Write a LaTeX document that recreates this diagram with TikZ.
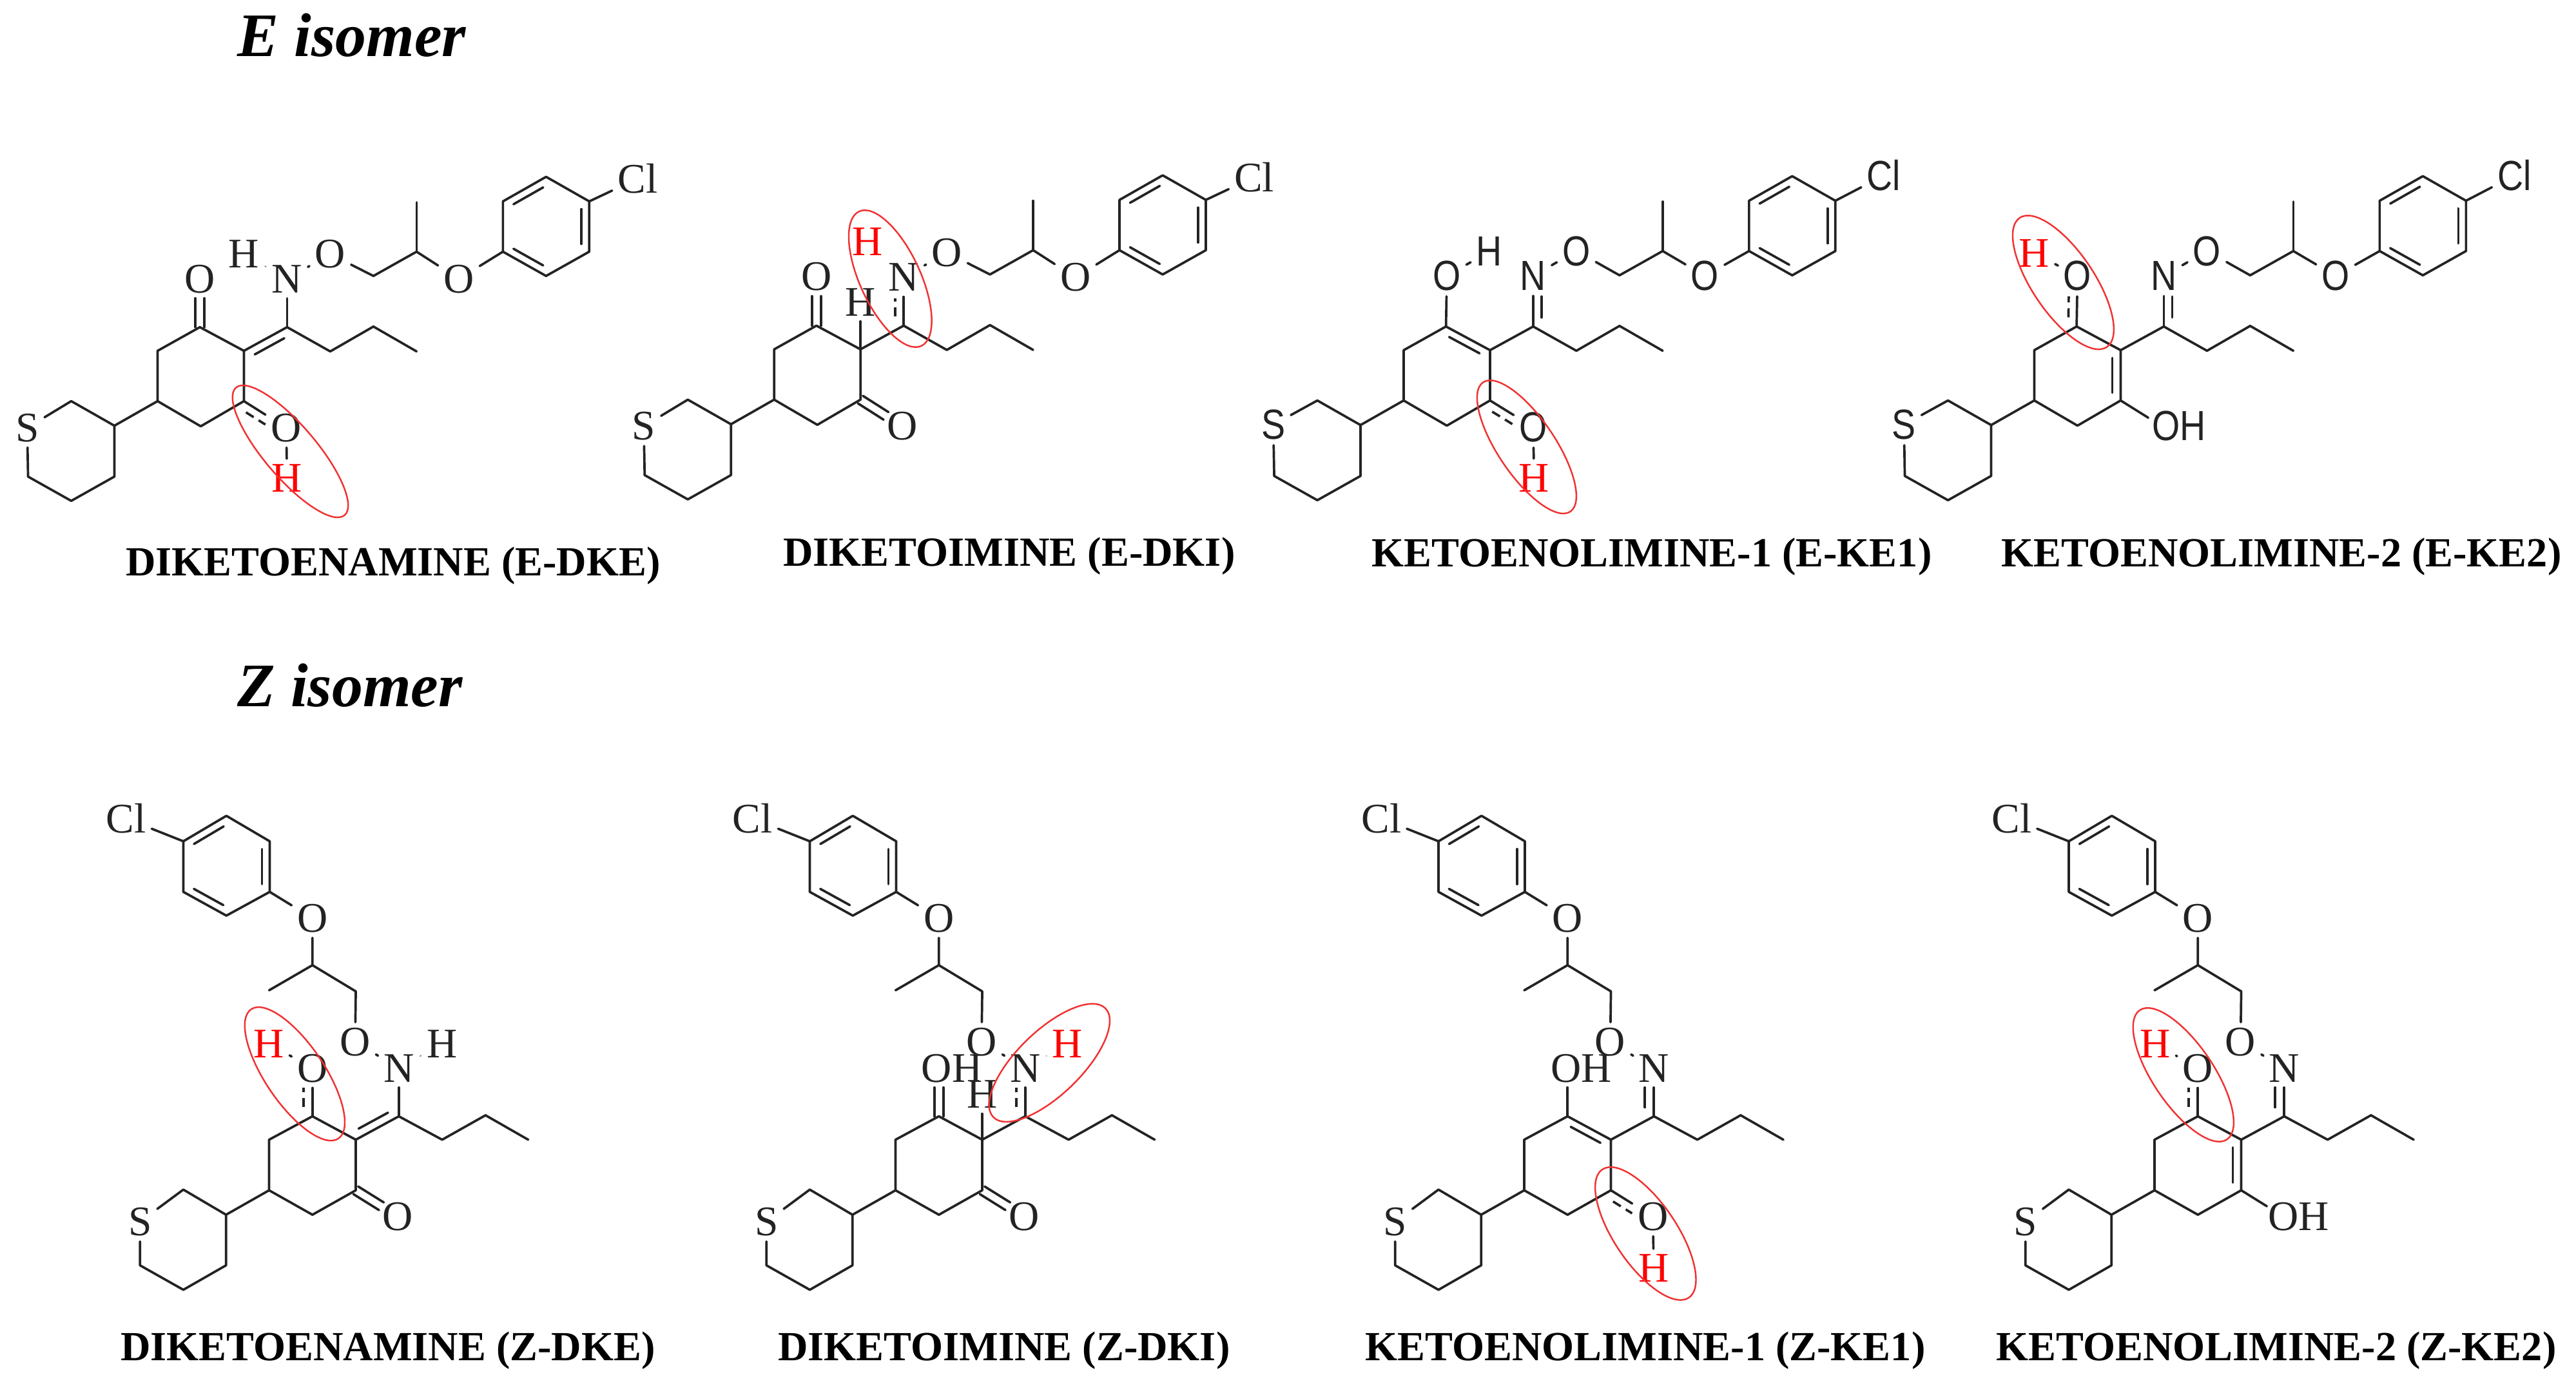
\documentclass[tikz,border=0pt]{standalone}
\usepackage{fontspec}
\usetikzlibrary{calc}
\setmainfont{Liberation Serif}
\newfontfamily\sansat[FakeStretch=0.85]{Liberation Sans}
\definecolor{ink}{RGB}{35,35,35}
\definecolor{hlred}{RGB}{240,50,50}
\def\serifatom{\rmfamily\fontsize{18.6pt}{20pt}\selectfont}
\def\sansatom{\sansat\fontsize{18.6pt}{20pt}\selectfont}
\let\atomf\serifatom
\def\atomdy{0cm}
\tikzset{
  bond/.style={line width=1.05pt,draw=ink,line cap=round,line join=round},
  faint/.style={line width=0.5pt,draw=black!45},
  dashbond/.style={line width=1.05pt,draw=ink,dash pattern=on 4pt off 2.6pt},
  atom/.style={inner sep=0.08cm,text=ink,font=\atomf,yshift=\atomdy},
  redh/.style={inner sep=0.08cm,text=red,font=\serifatom},
  hl/.style={draw=hlred,line width=0.7pt},
  lab/.style={inner sep=0pt,text=black,font=\rmfamily\bfseries\fontsize{18.3pt}{20pt}\selectfont},
  ttl/.style={inner sep=0pt,anchor=base west,text=black,font=\rmfamily\bfseries\itshape\fontsize{27.3pt}{30pt}\selectfont},
  egrid/.style={x=0.0067cm,y=-0.00459cm},
  zgrid/.style={x=0.0051cm,y=-0.00542cm},
}
% parallel line: a,b,offset,start trim,end trim
\newcommand\dbb[5]{\draw[bond] ($(#1)!#4!(#2)!#3!90:(#2)$) -- ($(#2)!#5!(#1)!#3!-90:(#1)$);}
\newcommand\dsh[5]{\draw[dashbond] ($(#1)!#4!(#2)!#3!90:(#2)$) -- ($(#2)!#5!(#1)!#3!-90:(#1)$);}
\newcommand\symd[3]{%
  \draw[bond] ($(#1)!0.07cm!90:(#2)$) -- ($(#2)!#3!(#1)!0.07cm!-90:(#1)$);
  \draw[bond] ($(#1)!-0.07cm!90:(#2)$) -- ($(#2)!#3!(#1)!-0.07cm!-90:(#1)$);}
\newcommand\Eskel{%
  \foreach \n/\p in {t1/{165,920},t2/{265,1003},t3/{265,1175},t4/{165,1257},t5/{65,1175},
    r1/{365,920},r2/{365,750},r3/{463,670},r4/{565,750},r5/{565,920},r6/{465,1005},
    e1/{665,670},e2/{765,752},e3/{865,668},e4/{965,752},
    c1/{865,497},c2/{965,415},me/{965,248},
    b1/{1165,415},b2/{1165,245},b3/{1265,162},b4/{1365,245},b5/{1365,415},b6/{1265,497}}
    {\coordinate (\n) at (\p);}
  \node[atom] (S) at (63,1010) {S};
  \node[atom] (Cl) at (1477,168) {Cl};
  \node[atom] (O1) at (765,423) {O};
  \node[atom] (O2) at (1063,507) {O};
  \node[atom] (N) at (665,507) {N};
  \draw[bond] (S)--(t1)--(t2)--(t3)--(t4)--(t5)--(S);
  \draw[bond] (t2)--(r1)--(r2)--(r3)--(r4)--(r5)--(r6)--(r1);
  \draw[bond] (e1)--(e2)--(e3)--(e4);
  \draw[bond] (r4)--(e1);
  \draw[bond] (e1)--(N);
  \draw[bond] (N)--(O1);
  \draw[bond] (O1)--(c1)--(c2)--(O2);
  \draw[bond] (c2)--(me);
  \draw[bond] (O2)--(b1)--(b2)--(b3)--(b4)--(b5)--(b6)--(b1);
  \draw[bond] (b4)--(Cl);
  \dbb{b2}{b3}{-0.12cm}{0.12cm}{0.12cm}
  \dbb{b4}{b5}{-0.12cm}{0.12cm}{0.12cm}
  \dbb{b6}{b1}{-0.12cm}{0.12cm}{0.12cm}}
\newcommand\Zskel{%
  \foreach \n/\p in {t1/{362,1193},t2/{492,1265},t3/{492,1410},t4/{362,1480},t5/{230,1410},
    r1/{623,1195},r2/{623,1050},r3/{755,983},r4/{887,1050},r5/{887,1195},r6/{755,1265},
    e1/{1018,983},e2/{1150,1050},e3/{1282,980},e4/{1412,1050},
    c1/{887,625},c2/{755,550},me/{623,622},
    b1/{625,340},b2/{625,195},b3/{493,122},b4/{362,195},b5/{362,340},b6/{493,408}}
    {\coordinate (\n) at (\p);}
  \node[atom] (S) at (230,1285) {S};
  \node[atom] (Cl) at (188,130) {Cl};
  \node[atom] (O1) at (885,770) {O};
  \node[atom] (O2) at (755,415) {O};
  \node[atom] (N) at (1018,845) {N};
  \draw[bond] (S)--(t1)--(t2)--(t3)--(t4)--(t5)--(S);
  \draw[bond] (t2)--(r1)--(r2)--(r3)--(r4)--(r5)--(r6)--(r1);
  \draw[bond] (e1)--(e2)--(e3)--(e4);
  \draw[bond] (r4)--(e1);
  \draw[bond] (e1)--(N);
  \draw[bond] (N)--(O1);
  \draw[bond] (O1)--(c1)--(c2)--(O2);
  \draw[bond] (c2)--(me);
  \draw[bond] (O2)--(b1)--(b2)--(b3)--(b4)--(b5)--(b6)--(b1);
  \draw[bond] (b4)--(Cl);
  \dbb{b4}{b3}{-0.12cm}{0.12cm}{0.12cm}
  \dbb{b2}{b1}{-0.12cm}{0.12cm}{0.12cm}
  \dbb{b6}{b5}{-0.12cm}{0.12cm}{0.12cm}}
\begin{document}
\begin{tikzpicture}
\useasboundingbox (0,0) rectangle (39.97,-21.5);
% titles
\node[ttl] (tE) at (3.68,-0.87) {E isomer};
\node[ttl] (tZ) at (3.68,-10.96) {Z isomer};
% ---------- E-DKE
\begin{scope}[egrid,name prefix=edke-,shift={(0cm,-2cm)}]
  \Eskel
  \node[atom] (O3) at (463,507) {O};
  \node[atom] (O4) at (663,1010) {O};
  \node[atom] (Hb) at (565,423) {H};
  \node[redh] (Hr) at (665,1180) {H};
  \draw[faint] (Hb)--(N);
  \symd{r3}{O3}{0.30cm}
  \dbb{r4}{e1}{-0.13cm}{0.12cm}{0.12cm}
  \draw[bond] (r5)--(O4);
  \dsh{r5}{O4}{-0.13cm}{0.12cm}{0.30cm}
  \draw[bond] (O4)--(Hr);
\end{scope}
% ---------- E-DKI
\begin{scope}[egrid,name prefix=edki-,shift={(9.567cm,-1.977cm)}]
  \Eskel
  \node[atom] (O3) at (463,505) {O};
  \node[atom] (O4) at (662,1010) {O};
  \node[atom] (Hb) at (565,590) {H};
  \node[redh] (Hr) at (582,387) {H};
  \draw[bond] (r4)--(Hb);
  \symd{r3}{O3}{0.30cm}
  \symd{r5}{O4}{0.30cm}
  \dsh{e1}{N}{0.13cm}{0.14cm}{0.32cm}
\end{scope}
% ---------- E-KE1
\let\atomf\sansatom \def\atomdy{0.037cm}
\begin{scope}[egrid,name prefix=eke1-,shift={(19.335cm,-1.99cm)}]
  \Eskel
  \node[atom] (O3) at (465,507) {O};
  \node[atom] (Hb) at (563,425) {H};
  \node[atom] (O4) at (665,1018) {O};
  \node[redh] (Hr) at (667,1182) {H};
  \draw[bond] (r3)--(O3);
  \draw[bond] (O3)--(Hb);
  \dbb{r3}{r4}{-0.12cm}{0.12cm}{0.12cm}
  \dbb{e1}{N}{-0.13cm}{0.14cm}{0.32cm}
  \draw[bond] (r5)--(O4);
  \dsh{r5}{O4}{-0.13cm}{0.12cm}{0.30cm}
  \draw[bond] (O4)--(Hr);
\end{scope}
% ---------- E-KE2
\begin{scope}[egrid,name prefix=eke2-,shift={(29.12cm,-1.99cm)}]
  \Eskel
  \node[atom] (O3) at (465,507) {O};
  \node[redh] (Hr) at (365,422) {H};
  \coordinate (oc) at (667,1013);
  \node[atom] (OH) at (700,1013) {OH};
  \draw[bond] (r3)--(O3);
  \dsh{r3}{O3}{0.13cm}{0.14cm}{0.32cm}
  \draw[bond] (O3)--(Hr);
  \dbb{e1}{N}{-0.13cm}{0.14cm}{0.32cm}
  \dbb{r4}{r5}{-0.13cm}{0.12cm}{0.12cm}
  \draw[bond,shorten >=0.30cm] (r5)--(oc);
\end{scope}
\let\atomf\serifatom \def\atomdy{0cm}
% ---------- Z-DKE
\begin{scope}[zgrid,name prefix=zdke-,shift={(1cm,-12cm)}]
  \Zskel
  \node[atom] (O3) at (755,845) {O};
  \node[atom] (O4) at (1015,1270) {O};
  \node[atom] (Hb) at (1150,775) {H};
  \node[redh] (Hr) at (622,775) {H};
  \draw[faint] (N)--(Hb);
  \draw[bond] (r3)--(O3);
  \dsh{r3}{O3}{0.14cm}{0.14cm}{0.30cm}
  \draw[bond] (O3)--(Hr);
  \dbb{r4}{e1}{0.13cm}{0.12cm}{0.12cm}
  \symd{r5}{O4}{0.30cm}
\end{scope}
% ---------- Z-DKI
\begin{scope}[zgrid,name prefix=zdki-,shift={(10.72cm,-12cm)}]
  \Zskel
  \coordinate (oc) at (755,845);
  \node[atom] (OH) at (795,845) {OH};
  \node[atom] (O4) at (1015,1270) {O};
  \node[atom] (Hb) at (887,920) {H};
  \node[redh] (Hr) at (1147,775) {H};
  \symd{r3}{oc}{0.30cm}
  \draw[bond] (r4)--(Hb);
  \symd{r5}{O4}{0.30cm}
  \dsh{e1}{N}{0.14cm}{0.14cm}{0.30cm}
  \draw[faint] (N)--(Hr);
\end{scope}
% ---------- Z-KE1
\begin{scope}[zgrid,name prefix=zke1-,shift={(20.475cm,-12cm)}]
  \Zskel
  \coordinate (oc) at (755,845);
  \node[atom] (OH) at (797,845) {OH};
  \node[atom] (O4) at (1015,1270) {O};
  \node[redh] (Hr) at (1017,1418) {H};
  \draw[bond,shorten >=0.30cm] (r3)--(oc);
  \dbb{r3}{r4}{-0.12cm}{0.12cm}{0.12cm}
  \dbb{e1}{N}{0.14cm}{0.14cm}{0.30cm}
  \draw[bond] (r5)--(O4);
  \dsh{r5}{O4}{-0.13cm}{0.12cm}{0.30cm}
  \draw[bond] (O4)--(Hr);
\end{scope}
% ---------- Z-KE2
\begin{scope}[zgrid,name prefix=zke2-,shift={(30.255cm,-12cm)}]
  \Zskel
  \node[atom] (O3) at (755,845) {O};
  \node[redh] (Hr) at (625,775) {H};
  \coordinate (oc) at (1015,1270);
  \node[atom] (OH) at (1062,1270) {OH};
  \draw[bond] (r3)--(O3);
  \dsh{r3}{O3}{0.14cm}{0.14cm}{0.30cm}
  \draw[bond] (O3)--(Hr);
  \dbb{r4}{r5}{-0.13cm}{0.12cm}{0.12cm}
  \dbb{e1}{N}{0.14cm}{0.14cm}{0.30cm}
  \draw[bond,shorten >=0.30cm] (r5)--(oc);
\end{scope}
% highlight ellipses
\draw[hl] (4.505,-7.005) circle[x radius=1.30,y radius=0.405,rotate=130.4];
\draw[hl] (13.813,-4.325) circle[x radius=1.15,y radius=0.469,rotate=114.8];
\draw[hl] (23.689,-6.936) circle[x radius=1.21,y radius=0.443,rotate=124];
\draw[hl] (32.014,-4.383) circle[x radius=1.209,y radius=0.48,rotate=124];
\draw[hl] (4.574,-16.666) circle[x radius=1.21,y radius=0.458,rotate=124];
\draw[hl] (16.283,-16.494) circle[x radius=1.212,y radius=0.496,rotate=44.1];
\draw[hl] (25.533,-19.144) circle[x radius=1.20,y radius=0.484,rotate=124];
\draw[hl] (33.878,-16.68) circle[x radius=1.21,y radius=0.47,rotate=124];
% captions
\node[lab] (a1) at (6.10,-8.78) {DIKETOENAMINE (E-DKE)};
\node[lab] (a2) at (15.66,-8.63) {DIKETOIMINE (E-DKI)};
\node[lab] (a3) at (25.63,-8.64) {KETOENOLIMINE-1 (E-KE1)};
\node[lab] (a4) at (35.40,-8.64) {KETOENOLIMINE-2 (E-KE2)};
\node[lab] (a5) at (6.02,-20.96) {DIKETOENAMINE (Z-DKE)};
\node[lab] (a6) at (15.58,-20.96) {DIKETOIMINE (Z-DKI)};
\node[lab] (a7) at (25.53,-20.96) {KETOENOLIMINE-1 (Z-KE1)};
\node[lab] (a8) at (35.32,-20.96) {KETOENOLIMINE-2 (Z-KE2)};
\end{tikzpicture}
\end{document}
